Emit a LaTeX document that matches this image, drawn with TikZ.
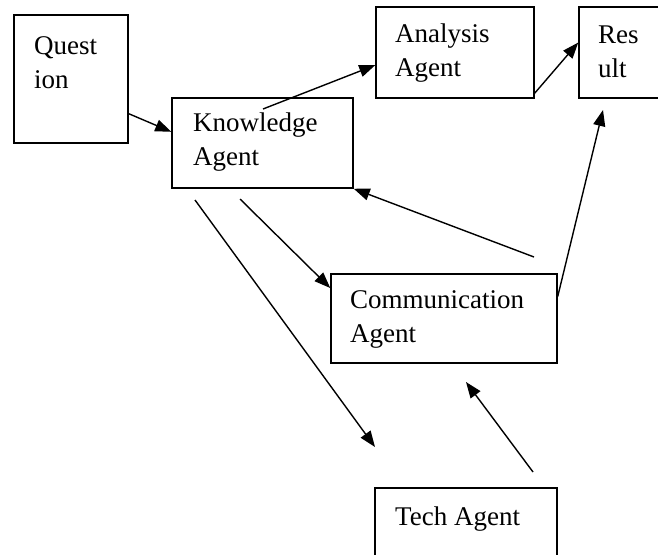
\documentclass[tikz,border=0pt]{standalone}
\usepackage{fontspec}
\setmainfont{Liberation Serif}
\usetikzlibrary{arrows.meta}
\tikzset{
  agentbox/.style={draw, line width=1.5pt, rectangle, inner sep=0pt},
  boxtext/.style={anchor=base west, align=left, inner sep=0pt,
    font=\fontsize{27}{34}\selectfont},
  flow/.style={line width=1.4pt, -{Triangle[length=16pt, width=12pt]}},
}
\begin{document}
\begin{tikzpicture}[x=1pt, y=-1pt]
\useasboundingbox (0,0) rectangle (658,554);
\clip (0,0) rectangle (658,554);

% boxes
\node[agentbox, minimum width=114pt, minimum height=128pt] (q) at (71,79) {};
\node[agentbox, minimum width=181pt, minimum height=90pt] (k) at (262.5,143) {};
\node[agentbox, minimum width=158pt, minimum height=91pt] (a) at (455,52.5) {};
\node[agentbox, minimum width=101pt, minimum height=91pt] (r) at (629.5,52.5) {};
\node[agentbox, minimum width=226pt, minimum height=89pt] (c) at (444,318.5) {};
\node[agentbox, minimum width=182pt, minimum height=92pt] (t) at (466,534) {};

% box texts, placed by the baseline of their last line
\node[boxtext] (qt) at (34,88) {Quest\\ion};
\node[boxtext] (kt) at (193,165) {Knowledge\\Agent};
\node[boxtext] (at) at (395,76) {Analysis\\Agent};
\node[boxtext] (rt) at (598,77) {Res\\ult};
\node[boxtext] (ct) at (350,342) {Communication\\Agent};
\node[boxtext] (tt) at (395,525) {Tech Agent};

% free arrow ends
\coordinate (k1) at (263,109);
\coordinate (r1) at (603,110);
\coordinate (c1) at (534,257);
\coordinate (k2) at (240,199);
\coordinate (k3) at (195,200);
\coordinate (t1) at (375,447);
\coordinate (t2) at (533,472);
\coordinate (c2) at (466,382);

% connectors
\draw[flow] (q.-31) -- (k.173);
\draw[flow] (k1) -- (a.189);
\draw[flow] (a.-27) -- (r.169.5);
\draw[flow] (c.11) -- (r1);
\draw[flow] (c1) -- (k.south east);
\draw[flow] (k2) -- (c.165);
\draw[flow] (k3) -- (t1);
\draw[flow] (t2) -- (c2);
\end{tikzpicture}
\end{document}
